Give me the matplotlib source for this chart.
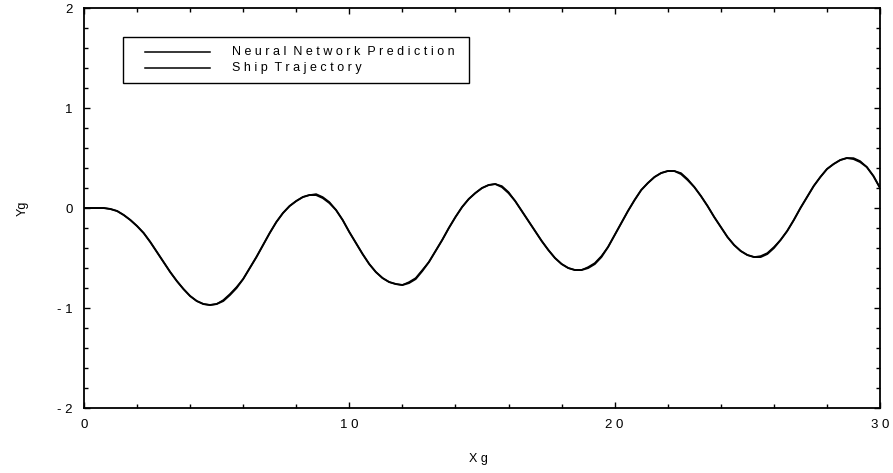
"""Ship trajectory vs neural network prediction"""

import matplotlib
matplotlib.use("Agg")
import matplotlib.pyplot as plt
from matplotlib.patches import Rectangle
from matplotlib.ticker import MultipleLocator

matplotlib.rc('font', **{"family": ["Liberation Sans", "DejaVu Sans"], "size": 9})

# values
xg = [0.0, 0.25, 0.5, 0.75, 1.0, 1.25, 1.5, 1.75, 2.0, 2.25, 2.5, 2.75,
      3.0, 3.25, 3.5, 3.75, 4.0, 4.25, 4.5, 4.75, 5.0, 5.25, 5.5, 5.75,
      6.0, 6.25, 6.5, 6.75, 7.0, 7.25, 7.5, 7.75, 8.0, 8.25, 8.5, 8.75,
      9.0, 9.25, 9.5, 9.75, 10.0, 10.25, 10.5, 10.75, 11.0, 11.25, 11.5, 11.75,
      12.0, 12.25, 12.5, 12.75, 13.0, 13.25, 13.5, 13.75, 14.0, 14.25, 14.5, 14.75,
      15.0, 15.25, 15.5, 15.75, 16.0, 16.25, 16.5, 16.75, 17.0, 17.25, 17.5, 17.75,
      18.0, 18.25, 18.5, 18.75, 19.0, 19.25, 19.5, 19.75, 20.0, 20.25, 20.5, 20.75,
      21.0, 21.25, 21.5, 21.75, 22.0, 22.25, 22.5, 22.75, 23.0, 23.25, 23.5, 23.75,
      24.0, 24.25, 24.5, 24.75, 25.0, 25.25, 25.5, 25.75, 26.0, 26.25, 26.5, 26.75,
      27.0, 27.25, 27.5, 27.75, 28.0, 28.25, 28.5, 28.75, 29.0, 29.25, 29.5, 29.75,
      30.0]
yg_ship = [0.0, 0.0, 0.0, 0.0, -0.01, -0.03, -0.07, -0.12, -0.18, -0.25, -0.34, -0.44,
           -0.54, -0.64, -0.73, -0.81, -0.88, -0.93, -0.96, -0.97, -0.96, -0.93, -0.87, -0.80,
           -0.71, -0.60, -0.49, -0.37, -0.25, -0.14, -0.05, 0.02, 0.07, 0.11, 0.13, 0.13,
           0.10, 0.05, -0.02, -0.12, -0.24, -0.35, -0.46, -0.56, -0.64, -0.70, -0.74, -0.76,
           -0.77, -0.75, -0.71, -0.63, -0.54, -0.43, -0.32, -0.20, -0.09, 0.01, 0.09, 0.15,
           0.20, 0.23, 0.24, 0.21, 0.15, 0.07, -0.03, -0.13, -0.23, -0.33, -0.42, -0.50,
           -0.56, -0.60, -0.62, -0.62, -0.60, -0.56, -0.49, -0.39, -0.27, -0.15, -0.03, 0.08,
           0.18, 0.25, 0.31, 0.35, 0.37, 0.37, 0.34, 0.28, 0.21, 0.12, 0.02, -0.09,
           -0.19, -0.29, -0.37, -0.43, -0.47, -0.49, -0.49, -0.46, -0.40, -0.32, -0.23, -0.12,
           0.0, 0.11, 0.22, 0.31, 0.39, 0.44, 0.48, 0.50, 0.49, 0.46, 0.41, 0.32,
           0.20]
yg_nn = [0.0, 0.0, 0.0, 0.0, -0.01, -0.03, -0.07, -0.12, -0.18, -0.25, -0.34, -0.44,
         -0.54, -0.64, -0.73, -0.81, -0.88, -0.93, -0.96, -0.97, -0.96, -0.92, -0.86, -0.79,
         -0.71, -0.60, -0.49, -0.37, -0.25, -0.14, -0.05, 0.02, 0.07, 0.11, 0.13, 0.14,
         0.11, 0.06, -0.02, -0.12, -0.24, -0.35, -0.46, -0.56, -0.64, -0.70, -0.74, -0.76,
         -0.77, -0.74, -0.70, -0.62, -0.54, -0.43, -0.32, -0.20, -0.09, 0.01, 0.09, 0.15,
         0.20, 0.23, 0.24, 0.22, 0.16, 0.07, -0.03, -0.13, -0.23, -0.33, -0.42, -0.50,
         -0.56, -0.60, -0.62, -0.62, -0.59, -0.55, -0.48, -0.39, -0.27, -0.15, -0.03, 0.08,
         0.18, 0.25, 0.31, 0.35, 0.37, 0.37, 0.35, 0.29, 0.21, 0.12, 0.02, -0.09,
         -0.19, -0.29, -0.37, -0.43, -0.47, -0.49, -0.48, -0.45, -0.39, -0.32, -0.23, -0.12,
         0.0, 0.11, 0.22, 0.31, 0.39, 0.44, 0.48, 0.50, 0.50, 0.47, 0.41, 0.32,
         0.20]

x_ticks = [0, 10, 20, 30]
x_ticklabels = ["0", "1 0", "2 0", "3 0"]
y_ticks = [-2, -1, 0, 1, 2]
y_ticklabels = ["- 2", "- 1", "0", "1", "2"]
legend_labels = ["N e u r a l  N e t w o r k  P r e d i c t i o n",
                 "S h i p  T r a j e c t o r y"]


fig = plt.figure(figsize=(8.93, 4.73), dpi=100)
ax = fig.add_axes([0.094, 0.1374, 0.8915, 0.8456])

ax.plot(xg, yg_ship, color='black', linewidth=1.4, solid_joinstyle='round')
ax.plot(xg, yg_nn, color='black', linewidth=1.1, solid_joinstyle='round')

ax.set_xlim(0, 30)
ax.set_ylim(-2, 2)
ax.set_xticks(x_ticks)
ax.set_xticklabels(x_ticklabels)
ax.set_yticks(y_ticks)
ax.set_yticklabels(y_ticklabels)
ax.xaxis.set_minor_locator(MultipleLocator(2))
ax.yaxis.set_minor_locator(MultipleLocator(0.2))
ax.tick_params(which='both', direction='in', top=True, right=True, width=1.0)
ax.tick_params(which='major', length=4, labelsize=9.5)
ax.tick_params(which='minor', length=3)
ax.tick_params(axis='x', pad=8)
ax.tick_params(axis='y', pad=8)
for s in ax.spines.values():
    s.set_linewidth(1.3)

ax.set_xlabel("X g")
ax.set_ylabel("Yg")
ax.xaxis.set_label_coords(0.495, -0.112)
ax.yaxis.set_label_coords(-0.070, 0.5)

# legend box drawn by hand, as in the original
ax.add_patch(Rectangle((0.049, 0.8125), 0.4347, 0.115, transform=ax.transAxes,
                       fill=False, edgecolor='black', linewidth=1.0))
for yy, lab in zip([0.89, 0.85], legend_labels):
    ax.plot([0.0766, 0.1583], [yy, yy], color='black', linewidth=1.1,
            transform=ax.transAxes)
    ax.text(0.186, yy, lab, transform=ax.transAxes, va='center', ha='left')

fig.savefig("out.png", dpi=100)
